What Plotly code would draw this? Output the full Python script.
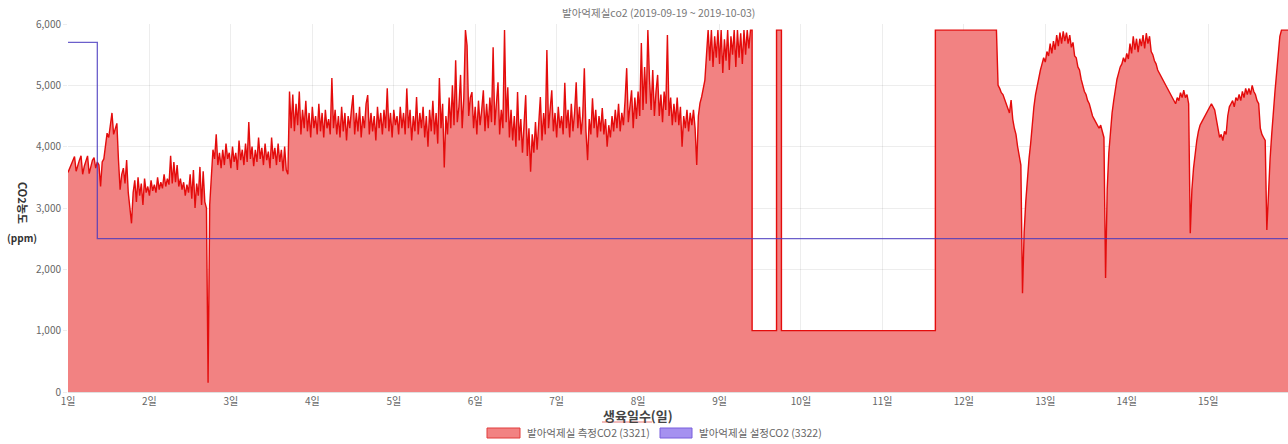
import numpy as np
import plotly.graph_objects as go

# ---- measured CO2 (ppm), days 1.00 .. 9.38, sampled every 0.02 day ----
meas_start_1 = 1.00
meas_step = 0.02
meas_vals_1 = [
    3580, 3650, 3720, 3790, 3840, 3600, 3700, 3780, 3850, 3550,
    3680, 3780, 3850, 3560, 3700, 3780, 3820, 3650, 3750, 3700,
    3350, 3750, 3800, 4050, 4220, 4150, 4320, 4550, 4200, 4300,
    4380, 3780, 3300, 3550, 3650, 3400, 3780, 3250, 2950, 2750,
    3250, 3450, 3100, 3500, 3200, 3400, 3050, 3480, 3250, 3350,
    3200, 3450, 3280, 3380, 3250, 3500, 3300, 3420, 3320, 3550,
    3350, 3480, 3380, 3850, 3400, 3750, 3420, 3700, 3350, 3480,
    3300, 3420, 3200, 3380, 3250, 3550, 3150, 3620, 3000, 3400,
    3200, 3670, 3050, 3600, 3100, 3000, 150, 3050, 3500, 3950,
    3800, 4200, 3700, 3900, 3650, 3950, 3700, 4050, 3800, 3900,
    3650, 4000, 3750, 3900, 3620, 4100, 3780, 3950, 3700, 4050,
    3750, 4400, 3800, 4000, 3680, 3950, 3750, 4150, 3800, 3980,
    3700, 4050, 3780, 3920, 3650, 4150, 3800, 3980, 3700, 4050,
    3750, 3950, 3600, 4000, 3620, 3550, 4900, 4300, 4850, 4250,
    4700, 4350, 4900, 4200, 4600, 4300, 4750, 4250, 4550, 4150,
    4650, 4300, 4500, 4200, 4700, 4250, 4550, 4150, 4600, 4300,
    4450, 4200, 5120, 4300, 4600, 4200, 4500, 4150, 4650, 4250,
    4550, 4100, 4500, 4300, 4600, 4840, 4200, 4550, 4250, 4650,
    4150, 4500, 4300, 4700, 4840, 4200, 4550, 4250, 4500, 4100,
    4650, 4300, 4550, 4200, 4600, 4300, 4950, 4250, 4550, 4150,
    4600, 4350, 4500, 4200, 4650, 4300, 4550, 4200, 4950, 4300,
    4600, 4100, 4500, 4250, 4810, 4200, 4550, 4300, 4650, 4150,
    4500, 4000, 4600, 4250, 4750, 4200, 4550, 4050, 5120, 4300,
    4700, 3660, 4500, 4200, 4800, 4300, 5000, 4350, 5410, 4400,
    4650, 5170, 4300, 4800, 5900, 5650, 4500, 4800, 4890, 4300,
    4650, 4200, 4750, 4350, 4600, 4920, 4250, 4700, 4300, 4800,
    4400, 5620, 4350, 4700, 5050, 4200, 4600, 4300, 5900, 4400,
    4970, 4150, 4600, 4100, 4500, 4000, 4890, 4100, 4450, 3900,
    4350, 4840, 3850, 4300, 3590, 4200, 3900, 4400, 3950, 4500,
    4810, 4100, 4550, 4200, 5575, 4300, 4600, 4920, 4250, 4550,
    4150, 4650, 4300, 4500, 4200, 5040, 4300, 4600, 4150, 4700,
    4250, 4550, 5050, 4300, 4650, 4200, 4500, 5280, 4250, 3780,
    4450, 4200, 4790, 4300, 4600, 4150, 4500, 4250, 4630, 4200,
    4450, 4000, 4350, 4150, 4500, 4250, 4600, 4300, 4700, 4250,
    4550, 4350, 4750, 5280, 4400, 4700, 4920, 4300, 4800, 4450,
    4900, 4500, 5690, 4600, 5300, 4700, 5900, 5100, 4600, 5250,
    4500, 4900, 5170, 4500, 4850, 4400, 4900, 4600, 5820, 4500,
    4800, 4350, 4700, 4400, 4800, 4350, 4650, 4000, 4500, 4300,
    4600, 4250, 4550, 4350, 4600, 4300, 3700, 4500, 4710, 4810,
    4950, 5085, 5500, 5900, 5400, 5900, 5300, 5800, 5450, 5900,
    5350, 5900, 5200, 5750, 5400, 5900, 5250, 5800, 5500, 5900,
    5300, 5900, 5450, 5850, 5350, 5900, 5500, 5900, 5600, 5900,
]

# ---- sensor dropout / saturation steps between the two sampled runs ----
step_days = [9.40, 9.40, 9.70, 9.70, 9.76, 9.76, 11.65, 11.65]
step_vals = [5900, 1000, 1000, 5900, 5900, 1000, 1000, 5900]

# ---- measured CO2 (ppm), days 12.40 .. 15.98 ----
meas_start_2 = 12.40
meas_vals_2 = [
    5900, 5000, 4950, 4880, 4850, 4780, 4720, 4650, 4550, 4760,
    4450, 4300, 4200, 4000, 3850, 3700, 1610, 2600, 3100, 3500,
    3800, 4050, 4400, 4650, 4850, 5000, 5150, 5250, 5350, 5450,
    5380, 5550, 5480, 5680, 5520, 5720, 5580, 5820, 5640, 5860,
    5680, 5880, 5720, 5860, 5680, 5820, 5620, 5700, 5480, 5450,
    5300, 5250, 5100, 5000, 4900, 4850, 4750, 4700, 4600, 4500,
    4450, 4400, 4350, 4300, 4350, 4250, 4150, 1860, 3300, 3900,
    4300, 4550, 4750, 4950, 5100, 5200, 5300, 5350, 5450, 5380,
    5520, 5430, 5680, 5520, 5800, 5580, 5760, 5540, 5760, 5640,
    5820, 5600, 5850, 5680, 5800, 5550, 5500, 5400, 5350, 5250,
    5200, 5150, 5100, 5050, 5000, 4950, 4900, 4850, 4800, 4750,
    4700, 4800, 4750, 4880, 4800, 4920, 4800, 4850, 4700, 2590,
    3300, 3650, 3900, 4100, 4250, 4350, 4400, 4450, 4500, 4550,
    4600, 4650, 4700, 4650, 4600, 4450, 4300, 4150, 4200, 4100,
    4250, 4200, 4500, 4650, 4700, 4750, 4650, 4800, 4750, 4850,
    4750, 4900, 4800, 4950, 4850, 4950, 4850, 5000, 4900, 4850,
    4750, 4700, 4300, 4200, 4150, 4100, 2640, 3300, 3800, 4200,
    4600, 4900, 5200, 5500, 5800, 5900, 5900, 5900, 5900, 5900,
]

# ---- CO2 set point (ppm) ----
set_days = [1.00, 1.36, 1.36, 15.98]
set_vals = [5700, 5700, 2500, 2500]

day_ticks = list(range(1, 16))
day_labels = [f"{d}일" for d in day_ticks]
ppm_ticks = [0, 1000, 2000, 3000, 4000, 5000, 6000]

x1 = meas_start_1 + meas_step * np.arange(len(meas_vals_1))
x2 = meas_start_2 + meas_step * np.arange(len(meas_vals_2))
meas_x = np.concatenate([x1, step_days, x2])
meas_y = np.concatenate([meas_vals_1, step_vals, meas_vals_2])

FONT = "Noto Sans CJK KR, Noto Sans, sans-serif"
W, H = 1288, 444
L, R, T, B = 68, 0, 24, 52
PW, PH = W - L - R, H - T - B


def px(x):
    return (x - L) / PW


def py(y):
    return (H - B - y) / PH


fig = go.Figure()
fig.add_trace(go.Scatter(
    x=meas_x, y=meas_y, mode="lines", fill="tozeroy",
    fillcolor="rgb(242,130,130)",
    line=dict(color="rgb(228,12,12)", width=1.4),
    name="발아억제실 측정CO2 (3321)", showlegend=False, hoverinfo="skip",
))
fig.add_trace(go.Scatter(
    x=set_days, y=set_vals, mode="lines",
    line=dict(color="rgba(70,55,190,0.8)", width=1.3),
    name="발아억제실 설정CO2 (3322)", showlegend=False, hoverinfo="skip",
))

fig.update_xaxes(
    range=[1, 15.98], tickvals=day_ticks, ticktext=day_labels,
    showgrid=True, gridcolor="rgba(0,0,0,0.07)", gridwidth=1,
    zeroline=False, showline=True, linecolor="rgba(0,0,0,0.12)",
    ticks="", tickfont=dict(family=FONT, size=10, color="#666"),
)
fig.update_yaxes(
    range=[0, 6000], tickvals=ppm_ticks, tickformat=",",
    showgrid=True, gridcolor="rgba(0,0,0,0.07)", gridwidth=1,
    zeroline=False, showline=False,
    ticks="outside", ticklen=4, tickcolor="rgba(0,0,0,0.07)",
    tickfont=dict(family=FONT, size=10, color="#666"),
)

annotations = [
    dict(text="발아억제실co2 (2019-09-19 ~ 2019-10-03)", x=px(658), y=py(12),
         font=dict(family=FONT, size=10.5, color="#777")),
    dict(text="<b>생육일수(일)</b>", x=px(638), y=py(415),
         font=dict(family=FONT, size=13, color="#444")),
    dict(text="<b>CO2농도</b>", x=px(23), y=py(203), textangle=90,
         font=dict(family=FONT, size=11, color="#333")),
    dict(text="<b>(ppm)</b>", x=px(22), y=py(237),
         font=dict(family=FONT, size=10, color="#333")),
    dict(text="발아억제실 측정CO2 (3321)", x=px(525), y=py(433), xanchor="left",
         font=dict(family=FONT, size=10.5, color="#666")),
    dict(text="발아억제실 설정CO2 (3322)", x=px(697), y=py(433), xanchor="left",
         font=dict(family=FONT, size=10.5, color="#666")),
]
for a in annotations:
    a.update(xref="paper", yref="paper", showarrow=False)
    a.setdefault("xanchor", "center")
    a.setdefault("yanchor", "middle")

shapes = [
    dict(type="rect", x0=px(487), x1=px(520), y0=py(438), y1=py(428),
         fillcolor="rgb(242,130,130)", line=dict(color="rgb(225,60,60)", width=1)),
    dict(type="rect", x0=px(660), x1=px(692), y0=py(438), y1=py(428),
         fillcolor="rgb(165,145,240)", line=dict(color="rgb(120,95,220)", width=1)),
    dict(type="line", x0=px(602), x1=px(652), y0=py(422), y1=py(422),
         line=dict(color="rgba(220,60,60,0.7)", width=1)),
]
for s in shapes:
    s.update(xref="paper", yref="paper", layer="above")

fig.update_layout(
    width=W, height=H,
    margin=dict(l=L, r=R, t=T, b=B, autoexpand=False),
    paper_bgcolor="white", plot_bgcolor="white",
    annotations=annotations, shapes=shapes,
    font=dict(family=FONT),
)

fig.write_html("out.html", config={"displayModeBar": False})
